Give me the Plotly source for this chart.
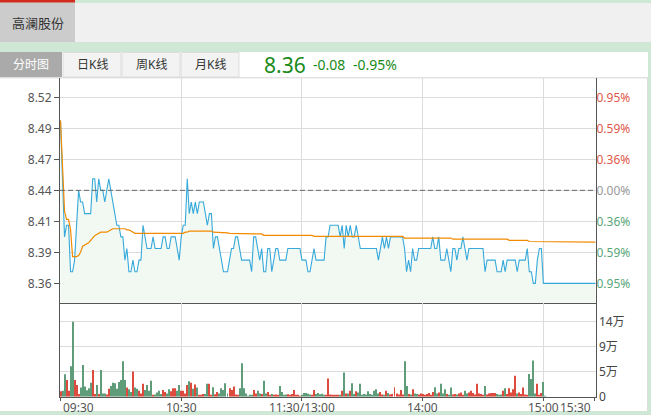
import plotly.graph_objects as go

W, H = 651, 415


def px(x):
    return x / W


def py(y):
    return 1 - y / H


# ---------------- data ----------------
stock_name = "高澜股份"
tab_names = ["分时图", "日K线", "周K线", "月K线"]
last_price_text = "8.36"
change_text = "-0.08"
change_pct_text = "-0.95%"
prev_close = 8.44

price_tick_labels = ["8.36", "8.39", "8.41", "8.44", "8.47", "8.49", "8.52"]
pct_tick_labels = ["0.95%", "0.59%", "0.36%", "0.00%", "0.36%", "0.59%", "0.95%"]
vol_tick_labels = ["0", "5万", "9万", "14万"]
vol_tick_top = 14.0  # 万

time_labels = ["09:30", "10:30", "11:30/13:00", "14:00", "15:00", "15:30"]
time_index = [0, 60, 120, 180, 240, 265.5]

# regular session, one value per minute (09:30 ... 11:30, 13:01 ... 15:00)
price = [
    8.50, 8.45, 8.40, 8.41, 8.41, 8.37, 8.37, 8.38, 8.41, 8.44,
    8.43, 8.43, 8.42, 8.42, 8.42, 8.42, 8.45, 8.45, 8.43, 8.45,
    8.44, 8.44, 8.43, 8.44, 8.45, 8.44, 8.43, 8.42, 8.41, 8.41,
    8.40, 8.40, 8.38, 8.39, 8.37, 8.37, 8.38, 8.37, 8.37, 8.38,
    8.38, 8.41, 8.40, 8.39, 8.39, 8.39, 8.40, 8.39, 8.39, 8.39,
    8.39, 8.40, 8.40, 8.39, 8.39, 8.40, 8.40, 8.40, 8.39, 8.38,
    8.40, 8.41, 8.41, 8.45, 8.42, 8.43, 8.42, 8.43, 8.42, 8.43,
    8.43, 8.43, 8.42, 8.41, 8.42, 8.42, 8.39, 8.40, 8.40, 8.39,
    8.38, 8.37, 8.37, 8.37, 8.38, 8.39, 8.39, 8.40, 8.40, 8.39,
    8.38, 8.38, 8.38, 8.38, 8.38, 8.37, 8.40, 8.40, 8.39, 8.38,
    8.39, 8.37, 8.37, 8.39, 8.39, 8.37, 8.38, 8.39, 8.39, 8.38,
    8.38, 8.38, 8.38, 8.39, 8.39, 8.39, 8.39, 8.39, 8.39, 8.39,
    8.38, 8.38, 8.38, 8.37, 8.37, 8.38, 8.39, 8.38, 8.38, 8.38,
    8.38, 8.38, 8.40, 8.40, 8.41, 8.41, 8.41, 8.41, 8.41, 8.40,
    8.41, 8.39, 8.41, 8.40, 8.41, 8.40, 8.40, 8.41, 8.40, 8.39,
    8.39, 8.39, 8.39, 8.39, 8.39, 8.39, 8.39, 8.39, 8.38, 8.39,
    8.40, 8.39, 8.40, 8.39, 8.40, 8.40, 8.40, 8.40, 8.40, 8.40,
    8.40, 8.39, 8.37, 8.38, 8.37, 8.39, 8.38, 8.38, 8.39, 8.39,
    8.39, 8.39, 8.39, 8.39, 8.39, 8.40, 8.39, 8.39, 8.40, 8.38,
    8.38, 8.38, 8.39, 8.38, 8.37, 8.39, 8.39, 8.38, 8.39, 8.39,
    8.40, 8.39, 8.38, 8.39, 8.39, 8.39, 8.39, 8.39, 8.39, 8.39,
    8.39, 8.37, 8.38, 8.38, 8.38, 8.38, 8.38, 8.37, 8.37, 8.37,
    8.38, 8.37, 8.38, 8.38, 8.38, 8.38, 8.38, 8.37, 8.38, 8.38,
    8.38, 8.38, 8.39, 8.37, 8.37, 8.36, 8.36, 8.38, 8.39, 8.39,
    8.36,
]

avg_price = [
    8.500, 8.460, 8.422, 8.415, 8.415, 8.406, 8.383, 8.383, 8.383, 8.384,
    8.387, 8.392, 8.393, 8.394, 8.395, 8.397, 8.399, 8.401, 8.402, 8.403,
    8.404, 8.404, 8.404, 8.404, 8.405, 8.406, 8.407, 8.407, 8.407, 8.407,
    8.407, 8.407, 8.407, 8.406, 8.406, 8.405, 8.404, 8.403, 8.403, 8.403,
    8.403, 8.403, 8.403, 8.403, 8.403, 8.403, 8.403, 8.403, 8.403, 8.403,
    8.403, 8.403, 8.403, 8.403, 8.403, 8.403, 8.403, 8.403, 8.403, 8.403,
    8.403, 8.403, 8.404, 8.404, 8.405, 8.405, 8.405, 8.405, 8.405, 8.405,
    8.405, 8.405, 8.405, 8.405, 8.405, 8.405, 8.404, 8.404, 8.404, 8.404,
    8.404, 8.4035, 8.4035, 8.4035, 8.403, 8.403, 8.403, 8.403, 8.403, 8.4025,
    8.4025, 8.4025, 8.4025, 8.4025, 8.4025, 8.4025, 8.4025, 8.4025, 8.4025, 8.4025,
    8.4025, 8.4013, 8.4013, 8.4013, 8.4013, 8.4013, 8.4013, 8.4013, 8.4013, 8.4013,
    8.4013, 8.4013, 8.4013, 8.4013, 8.4013, 8.4013, 8.4013, 8.4013, 8.4013, 8.4013,
    8.4013, 8.4013, 8.4013, 8.4013, 8.4013, 8.4013, 8.4005, 8.4005, 8.4005, 8.4005,
    8.4005, 8.4005, 8.4005, 8.4005, 8.4005, 8.4005, 8.4005, 8.4005, 8.4005, 8.4005,
    8.4005, 8.4005, 8.4005, 8.4005, 8.4005, 8.4005, 8.4005, 8.4005, 8.4005, 8.4005,
    8.4005, 8.4005, 8.4005, 8.4005, 8.4005, 8.4005, 8.4005, 8.4005, 8.4005, 8.4005,
    8.4005, 8.4005, 8.4005, 8.4005, 8.4005, 8.4005, 8.4005, 8.4005, 8.4005, 8.4005,
    8.4005, 8.399, 8.399, 8.399, 8.399, 8.399, 8.399, 8.399, 8.399, 8.399,
    8.399, 8.399, 8.399, 8.399, 8.399, 8.399, 8.399, 8.399, 8.399, 8.399,
    8.399, 8.399, 8.399, 8.399, 8.399, 8.398, 8.398, 8.398, 8.398, 8.398,
    8.398, 8.398, 8.398, 8.398, 8.398, 8.398, 8.398, 8.398, 8.398, 8.398,
    8.398, 8.398, 8.398, 8.398, 8.398, 8.398, 8.398, 8.398, 8.398, 8.398,
    8.398, 8.398, 8.398, 8.397, 8.397, 8.397, 8.397, 8.397, 8.397, 8.397,
    8.397, 8.397, 8.397, 8.396, 8.396, 8.3955, 8.3955, 8.3955, 8.3955, 8.3955,
    8.3955,
]

# volume per minute, in 万
volume = [
    1.0, 1.1, 4.2, 3.1, 1.1, 5.7, 14.0, 3.1, 2.2, 0.5,
    1.7, 5.9, 1.9, 1.2, 1.6, 2.6, 5.0, 0.5, 2.2, 0.5,
    5.0, 0.6, 0.6, 0.4, 1.5, 2.0, 2.6, 2.5, 1.5, 2.75,
    3.1, 6.6, 3.1, 1.7, 1.4, 0.9, 4.7, 1.7, 1.5, 1.1,
    0.6, 2.4, 1.25, 2.2, 1.1, 3.0, 0.3, 0.4, 0.8, 1.1,
    0.5, 1.25, 0.9, 0.6, 1.4, 1.0, 1.6, 1.6, 1.1, 2.2,
    1.1, 1.1, 0.6, 2.2, 2.9, 2.6, 1.5, 2.3, 1.7, 0.25,
    0.25, 0.5, 0.5, 2.4, 2.4, 0.3, 1.75, 0.45, 0.9, 0.6,
    1.6, 1.25, 2.5, 0.6, 1.6, 1.25, 1.9, 0.4, 0.3, 1.6,
    6.25, 1.6, 0.6, 0.1, 0.2, 0.3, 1.25, 0.6, 1.1, 0.6,
    0.5, 3.0, 0.6, 0.9, 0.25, 0.5, 0.3, 0.4, 0.25, 2.0,
    0.9, 0.25, 0.4, 0.45, 0.25, 0.5, 1.25, 0.25, 0.25, 0.1,
    0.3, 0.7, 0.7, 0.55, 0.4, 0.25, 1.25, 0.5, 0.7, 0.45,
    0.55, 0.25, 0.25, 3.4, 0.4, 0.25, 0.25, 0.25, 0.25, 0.25,
    1.1, 4.5, 0.6, 0.6, 1.1, 2.5, 0.5, 1.0, 0.8, 2.4,
    0.3, 0.5, 0.4, 1.0, 0.5, 0.3, 1.1, 1.4, 0.6, 0.9,
    0.4, 0.3, 1.1, 0.7, 0.4, 0.5, 1.75, 0.6, 0.4, 1.25,
    0.4, 6.6, 2.0, 0.5, 0.4, 1.4, 0.6, 0.5, 0.4, 0.6,
    0.5, 0.3, 0.5, 0.7, 0.3, 0.9, 1.75, 0.6, 0.8, 2.4,
    0.6, 1.4, 0.5, 0.3, 1.7, 0.4, 0.5, 0.4, 0.6, 0.8,
    0.3, 1.1, 0.6, 0.8, 1.1, 0.7, 0.4, 2.4, 0.6, 0.5,
    0.3, 2.0, 0.4, 0.6, 0.7, 0.7, 0.7, 0.5, 0.3, 0.4,
    1.1, 1.6, 0.5, 1.6, 0.8, 1.4, 3.9, 0.6, 0.8, 0.5,
    1.7, 0.4, 0.3, 4.25, 3.3, 6.75, 0.6, 2.4, 0.3, 0.7,
    2.75,
]

# after-hours fixed-price session 15:05 ... 15:30
after_price = [8.36, 8.36, 8.36, 8.36, 8.36, 8.36, 8.36, 8.36, 8.36, 8.36,
               8.36, 8.36, 8.36, 8.36, 8.36, 8.36, 8.36, 8.36, 8.36, 8.36,
               8.36, 8.36, 8.36, 8.36, 8.36, 8.36]
after_avg = [8.3955, 8.3955, 8.3955, 8.3955, 8.3955, 8.3955, 8.3955, 8.3955, 8.3955, 8.3955,
             8.3955, 8.3955, 8.3955, 8.3955, 8.3955, 8.3955, 8.3955, 8.3955, 8.3955, 8.3955,
             8.3955, 8.3955, 8.3955, 8.3955, 8.3955, 8.3955]
after_volume = [0.1, 0, 0, 0, 0, 0, 0, 0, 0, 0,
                0, 0, 0, 0, 0, 0, 0, 0, 0, 0,
                0, 0, 0, 0, 0, 0]

# ---------------- styling ----------------
FONT = "Noto Sans, Noto Sans CJK SC, sans-serif"
BORDER_GREEN = "#cfe8d5"
UP = "#dd4b3e"
DOWN = "#5e9c7a"
BLUE = "#36a9da"
ORANGE = "#f28a00"
AXIS = "#555555"
GRID = "#dcdcdc"
TEXT_GREEN = "#1a8a1a"

all_price = price + after_price
all_avg = avg_price + after_avg
all_vol = volume + after_volume
idx = list(range(len(all_price)))

# bar colours: up minute red, down minute green, flat keeps previous
bar_colors = []
prev_col = UP
for k, p in enumerate(all_price):
    ref = prev_close if k == 0 else all_price[k - 1]
    if p > ref:
        c = UP
    elif p < ref:
        c = DOWN
    else:
        c = prev_col
    bar_colors.append(c)
    prev_col = c

half = 0.0966
step = 0.08 / 3
price_tickvals = [prev_close + k * step for k in range(-3, 4)]
pct_colors = ["#5aa67a"] * 3 + ["#999999"] + ["#e0594c"] * 3
pct_ticktext = [f'<span style="color:{c}">{t}</span>' for c, t in zip(pct_colors, pct_tick_labels)]
vol_tickvals = [vol_tick_top * k / 3 for k in range(4)]

x_range = [-0.25, 265.9]

fig = go.Figure()

fig.add_trace(go.Scatter(
    x=idx, y=all_price, mode="lines", line=dict(color=BLUE, width=1.1),
    fill="tozeroy", fillcolor="#f1f9f2", xaxis="x", yaxis="y", hoverinfo="skip"))
fig.add_trace(go.Scatter(
    x=idx, y=all_avg, mode="lines", line=dict(color=ORANGE, width=1.2),
    xaxis="x", yaxis="y", hoverinfo="skip"))
fig.add_trace(go.Bar(
    x=idx, y=all_vol, marker=dict(color=bar_colors, line=dict(width=0)),
    width=0.5, xaxis="x2", yaxis="y2", hoverinfo="skip"))
# invisible trace to activate right-hand percentage axis
fig.add_trace(go.Scatter(x=[0], y=[prev_close], mode="markers", marker=dict(opacity=0),
                         xaxis="x", yaxis="y3", hoverinfo="skip"))

dom_x = [px(60), px(595.5)]
dom_price = [py(302.7), py(78)]
dom_vol = [py(396.7), py(302.7)]

grid_x = time_index[1:5]

fig.update_layout(
    width=W, height=H, margin=dict(l=0, r=0, t=0, b=0, autoexpand=False),
    paper_bgcolor=BORDER_GREEN, plot_bgcolor="rgba(0,0,0,0)",
    showlegend=False, font=dict(family=FONT, size=12, color=AXIS),
    xaxis=dict(domain=dom_x, range=x_range, anchor="y", tickmode="array",
               tickvals=grid_x, showticklabels=False, ticks="",
               showgrid=True, gridcolor=GRID, gridwidth=1, zeroline=False,
               showline=True, linecolor=AXIS, linewidth=1, fixedrange=True),
    xaxis2=dict(domain=dom_x, range=x_range, anchor="y2", tickmode="array",
                tickvals=time_index, showticklabels=False, ticks="outside",
                ticklen=3, tickcolor=AXIS, showgrid=True, gridcolor=GRID,
                zeroline=False, showline=True, linecolor=AXIS, linewidth=1),
    yaxis=dict(domain=dom_price, range=[prev_close - half, prev_close + half],
               anchor="x", tickmode="array", tickvals=price_tickvals,
               ticktext=price_tick_labels, ticks="outside", ticklen=5,
               tickcolor=AXIS, showgrid=True, gridcolor=GRID, zeroline=False,
               showline=True, mirror=True, linecolor=AXIS, linewidth=1,
               tickfont=dict(size=12, color=AXIS)),
    yaxis3=dict(overlaying="y", side="right", anchor="x",
                range=[prev_close - half, prev_close + half], tickmode="array",
                tickvals=price_tickvals, ticktext=pct_ticktext, ticks="",
                showgrid=False, zeroline=False, showline=False,
                tickfont=dict(size=12)),
    yaxis2=dict(domain=dom_vol, range=[0, vol_tick_top * 94 / 75], anchor="x2",
                side="right", tickmode="array", tickvals=vol_tickvals,
                ticktext=vol_tick_labels, ticks="", showgrid=True, gridcolor=GRID,
                zeroline=False, showline=True, mirror=True, linecolor=AXIS,
                linewidth=1, tickfont=dict(size=12, color="#444444")),
)

shapes = []
# white content area
shapes.append(dict(type="rect", xref="paper", yref="paper", x0=0, x1=px(648), y0=py(411), y1=py(52),
                   fillcolor="white", line=dict(width=0), layer="below"))
# top bar
shapes.append(dict(type="rect", xref="paper", yref="paper", x0=0, x1=1, y0=py(42), y1=py(3),
                   fillcolor="#f0f0f0", line=dict(width=0), layer="below"))
shapes.append(dict(type="rect", xref="paper", yref="paper", x0=0, x1=px(75), y0=py(42), y1=py(2.5),
                   fillcolor="#cccccc", line=dict(width=0), layer="below"))
shapes.append(dict(type="rect", xref="paper", yref="paper", x0=0, x1=px(75), y0=py(2.5), y1=1,
                   fillcolor="#d42a1e", line=dict(width=0), layer="below"))
# tabs
shapes.append(dict(type="rect", xref="paper", yref="paper", x0=0, x1=px(62), y0=py(77), y1=py(52),
                   fillcolor="#aaaaaa", line=dict(width=0), layer="below"))
tab_x = [(63, 121), (122, 180), (181, 239)]
for a, b in tab_x:
    shapes.append(dict(type="rect", xref="paper", yref="paper", x0=px(a), x1=px(b), y0=py(77), y1=py(52.5),
                       fillcolor="#f3f3f3", line=dict(width=1, color="#dddddd"), layer="below"))
# chart frame lines
shapes.append(dict(type="line", xref="paper", yref="paper", x0=0, x1=px(648), y0=py(77.8), y1=py(77.8),
                   line=dict(color="#d4d4d4", width=1), layer="below"))
shapes.append(dict(type="line", xref="paper", yref="paper", x0=px(647.5), x1=px(647.5), y0=py(411), y1=py(78),
                   line=dict(color="#dddddd", width=1), layer="below"))
# previous close dashed line
shapes.append(dict(type="line", xref="x", yref="y", x0=x_range[0], x1=x_range[1], y0=prev_close, y1=prev_close,
                   line=dict(color="#666666", width=1, dash="5px,3px"), layer="above"))
fig.update_layout(shapes=shapes)


def label(text, x, y, size, color, xanchor="center", xref="paper", xshift=0):
    return dict(text=text, x=x, y=y, xref=xref, yref="paper", showarrow=False,
                xanchor=xanchor, yanchor="middle", xshift=xshift,
                font=dict(size=size, color=color, family=FONT))


ann = []
ann.append(label(stock_name, px(37.5), py(22.5), 13, "#333333"))
tab_centers = [31, 92, 151, 210]
for name, cx in zip(tab_names, tab_centers):
    ann.append(label(name, px(cx), py(64.5), 12, "white" if name == tab_names[0] else "#333333"))
ann.append(label(last_price_text, px(262), py(64.5), 21, TEXT_GREEN, xanchor="left"))
ann.append(label(change_text, px(311), py(65), 14, TEXT_GREEN, xanchor="left"))
ann.append(label(change_pct_text, px(351), py(65), 14, TEXT_GREEN, xanchor="left"))
anchors = ["left", "center", "center", "center", "center", "right"]
for lab, pos, anc in zip(time_labels, time_index, anchors):
    ann.append(label(lab, pos, py(407), 12, AXIS, xanchor=anc, xref="x2",
                     xshift=(-2 if anc == "right" else 0)))
fig.update_layout(annotations=ann)

fig.write_html("out.html", config={"displayModeBar": False},
               post_script="document.body.style.margin='0px';document.body.style.overflow='hidden';")
